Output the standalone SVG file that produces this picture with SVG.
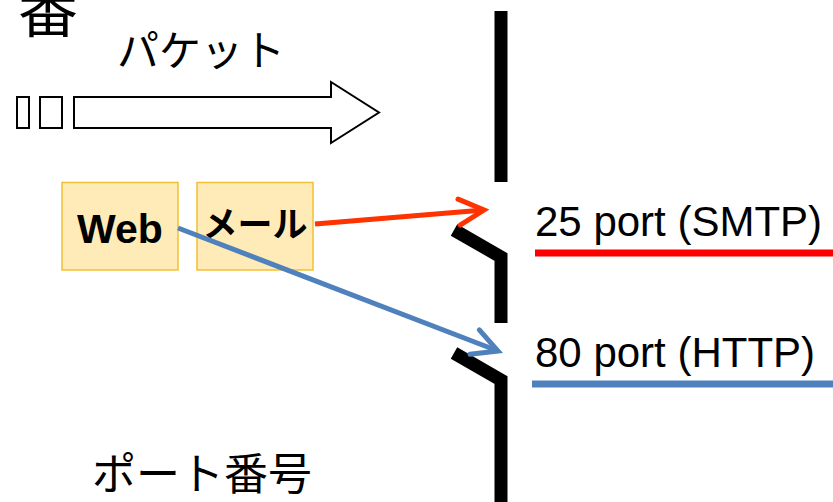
<svg xmlns="http://www.w3.org/2000/svg" width="833" height="502" viewBox="0 0 833 502">
  <style>
    .jp { font-family: "Noto Sans CJK JP", "Noto Sans", sans-serif; fill: #000; }
    .lat { font-family: "Liberation Sans", Arial, sans-serif; fill: #000; }
    .box { fill: #FFEBB8; stroke: #F2C033; stroke-width: 1.5; }
    .wall { fill: none; stroke: #000; stroke-width: 13; stroke-linejoin: miter; stroke-linecap: butt; }
    .outline { fill: #fff; stroke: #000; stroke-width: 2; }
  </style>
  <defs>
    <marker id="arrRed" markerUnits="userSpaceOnUse" viewBox="-40 -20 50 40" markerWidth="50" markerHeight="40" refX="0" refY="0" orient="auto" overflow="visible">
      <path d="M -25 -13 L 0 0 L -25 13" fill="none" stroke="#FF3300" stroke-width="5" stroke-linecap="round" stroke-linejoin="miter"/>
    </marker>
    <marker id="arrBlue" markerUnits="userSpaceOnUse" viewBox="-40 -20 50 40" markerWidth="50" markerHeight="40" refX="0" refY="0" orient="auto" overflow="visible">
      <path d="M -25 -13 L 0 0 L -25 13" fill="none" stroke="#4F81BD" stroke-width="5" stroke-linecap="round" stroke-linejoin="miter"/>
    </marker>
  </defs>
  <rect width="833" height="502" fill="#fff"/>

  <!-- clipped character at top-left (cut off in the reference too) -->
  <text class="jp" x="18" y="32" font-size="60">番</text>

  <!-- packet -->
  <g id="packet">
    <text class="jp" x="117" y="66" font-size="42">パケット</text>
    <rect class="outline" x="17" y="97" width="12" height="31"/>
    <rect class="outline" x="40" y="97" width="22" height="31"/>
    <polygon class="outline" points="74,97 331,97 331,82 379,112.5 331,143 331,128 74,128"/>
  </g>

  <!-- wall / ports -->
  <g id="wall">
    <line class="wall" x1="501" y1="11" x2="501" y2="182"/>
    <polyline class="wall" points="454,230 501,257 501,323"/>
    <polyline class="wall" points="454,353 501,380 501,502"/>
  </g>

  <g id="web">
    <rect class="box" x="62" y="182.5" width="116" height="87.5"/>
    <text class="lat" x="120" y="243" font-size="41" font-weight="bold" text-anchor="middle">Web</text>
  </g>
  <g id="mail">
    <rect class="box" x="197" y="182.5" width="116" height="87.5"/>
    <text class="jp" x="255" y="237" font-size="35" font-weight="bold" text-anchor="middle">メール</text>
  </g>

  <g id="port25">
    <text class="lat" x="535" y="236" font-size="42">25 port (SMTP)</text>
    <line x1="535" y1="253" x2="833" y2="253" stroke="#FF0000" stroke-width="7"/>
  </g>
  <g id="port80">
    <text class="lat" x="535" y="367" font-size="42">80 port (HTTP)</text>
    <line x1="532" y1="384" x2="833" y2="384" stroke="#4F81BD" stroke-width="7"/>
  </g>

  <g id="connectors">
    <line x1="315" y1="224" x2="484" y2="210" stroke="#FF3300" stroke-width="5" marker-end="url(#arrRed)"/>
    <line x1="178" y1="228" x2="498" y2="351" stroke="#4F81BD" stroke-width="5" marker-end="url(#arrBlue)"/>
  </g>

  <text class="jp" x="92" y="490" font-size="44">ポート番号</text>
</svg>
